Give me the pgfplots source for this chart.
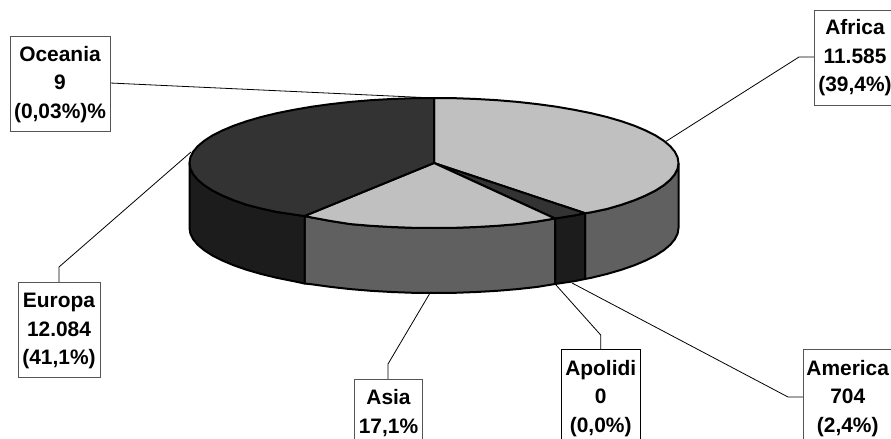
\documentclass[border=0pt]{standalone}
\usepackage{pgfplots}
\pgfplotsset{compat=1.18}
\usepackage{fontspec}
\setmainfont{Liberation Sans}
\definecolor{lt}{HTML}{C0C0C0}
\definecolor{md}{HTML}{606060}
\definecolor{dk}{HTML}{333333}
\definecolor{vd}{HTML}{1C1C1C}
\definecolor{bx}{HTML}{555555}
\begin{document}
\begin{tikzpicture}
\path[use as bounding box] (0,0) rectangle (891bp,439bp);
\begin{axis}[at={(0,0)},anchor=south west,scale only axis,width=891bp,height=439bp,
  xmin=0,xmax=891,ymin=0,ymax=439,y dir=reverse,hide axis,clip=false,
  every axis plot/.append style={no marks,line join=round,line width=2bp}]
% walls
\addplot[fill=md,draw=black] coordinates {(678.5,163)(677.6,168.7)(674.8,174.3)(670.2,179.8)(663.8,185.2)(655.6,190.5)(645.7,195.5)(634.3,200.3)(621.3,204.8)(606.9,209)(591.2,212.3)(585,213.2)(585,279)(591.2,277.8)(606.9,274)(621.3,269.8)(634.3,265.3)(645.7,260.5)(655.6,255.5)(663.8,250.2)(670.2,244.8)(674.8,239.3)(677.6,233.7)(678.5,228)(678.5,163)};
\addplot[fill=vd,draw=black] coordinates {(585,213.2)(574.2,215.5)(555,218.5)(555,284)(574.2,281.2)(585,279)(585,213.2)};
\addplot[fill=md,draw=black] coordinates {(555,218.5)(537.3,221.5)(517.6,224.1)(497.3,225.8)(476.5,227)(455.3,227.8)(434,228)(412.7,227.8)(391.5,227)(370.7,225.8)(350.4,224.1)(330.7,221)(311.8,217.5)(304.5,216)(304.5,283.5)(311.8,284.3)(330.7,286.9)(350.4,289.1)(370.7,290.8)(391.5,292)(412.7,292.8)(434,293)(455.3,292.8)(476.5,292)(497.3,290.8)(517.6,289.1)(537.3,286.9)(555,284)(555,218.5)};
\addplot[fill=vd,draw=black] coordinates {(304.5,216)(293.8,214.5)(276.8,212)(261.1,208.5)(246.7,204.8)(233.7,200.3)(222.3,195.5)(212.4,190.5)(204.2,185.2)(197.8,179.8)(193.2,174.3)(190.4,168.7)(189.5,163)(189.5,228)(190.4,233.7)(193.2,239.3)(197.8,244.8)(204.2,250.2)(212.4,255.5)(222.3,260.5)(233.7,265.3)(246.7,269.8)(261.1,274)(276.8,277.8)(293.8,281.2)(304.5,283.5)(304.5,216)};
% top faces
\addplot[fill=lt,draw=black] coordinates {(434,163)(434,98)(455.3,98.2)(476.5,99)(497.3,100.2)(517.6,101.9)(537.3,104.1)(556.3,106.7)(574.2,109.8)(591.2,113.2)(606.9,117)(621.3,121.2)(634.3,125.7)(645.7,130.5)(655.6,135.5)(663.8,140.8)(670.2,146.2)(674.8,151.7)(677.6,157.3)(678.5,163)(677.6,168.7)(674.8,174.3)(670.2,179.8)(663.8,185.2)(655.6,190.5)(645.7,195.5)(634.3,200.3)(621.3,204.8)(606.9,209)(591.2,212.3)(585,213.2)(434,163)};
\addplot[fill=dk,draw=black] coordinates {(434,163)(585,213.2)(574.2,215.5)(555,218.5)(434,163)};
\addplot[fill=lt,draw=black] coordinates {(434,163)(555,218.5)(537.3,221.5)(517.6,224.1)(497.3,225.8)(476.5,227)(455.3,227.8)(434,228)(412.7,227.8)(391.5,227)(370.7,225.8)(350.4,224.1)(330.7,221)(311.8,217.5)(304.5,216)(434,163)};
\addplot[fill=dk,draw=black] coordinates {(434,163)(304.5,216)(293.8,214.5)(276.8,212)(261.1,208.5)(246.7,204.8)(233.7,200.3)(222.3,195.5)(212.4,190.5)(204.2,185.2)(197.8,179.8)(193.2,174.3)(190.4,168.7)(189.5,163)(190.4,157.3)(193.2,151.7)(197.8,146.2)(204.2,140.8)(212.4,135.5)(222.3,130.5)(233.7,125.7)(246.7,121.2)(261.1,117)(276.8,113.2)(293.8,109.8)(311.8,106.7)(330.7,104.1)(350.4,101.9)(370.7,100.2)(391.5,99)(412.7,98.2)(434,98)(434,163)};
% leader lines
\addplot[black,line width=0.8bp] coordinates {(110,83)(434,98)};
\addplot[black,line width=0.8bp] coordinates {(814,57)(799,57)(665,142)};
\addplot[black,line width=0.8bp] coordinates {(59,282)(59,267)(191,152)};
\addplot[black,line width=0.8bp] coordinates {(388,379)(388,364)(430,293)};
\addplot[black,line width=0.8bp] coordinates {(600.7,349)(600.7,335)(556,285)};
\addplot[black,line width=0.8bp] coordinates {(803,397)(788,397)(572,283)};
% boxes
\draw[bx,line width=0.8bp,fill=white] (axis cs:10,36) rectangle (axis cs:110,131);
\draw[bx,line width=0.8bp,fill=white] (axis cs:814,10) rectangle (axis cs:895,105);
\draw[bx,line width=0.8bp,fill=white] (axis cs:18,282) rectangle (axis cs:100,377);
\draw[bx,line width=0.8bp,fill=white] (axis cs:354.5,379) rectangle (axis cs:422.3,445);
\draw[black,line width=0.8bp,fill=white] (axis cs:561,349) rectangle (axis cs:640.7,445);
\draw[bx,line width=0.8bp,fill=white] (axis cs:803,349.5) rectangle (axis cs:895,445);
% text
\tikzset{lab/.style={inner sep=0pt,anchor=base,font=\fontsize{21}{24}\selectfont\bfseries}}
\node[lab] at (axis cs:60,61.7) {Oceania};
\node[lab] at (axis cs:60,90) {9};
\node[lab] at (axis cs:60,118.3) {(0,03\%)\%};
\node[lab] at (axis cs:855,35) {Africa};
\node[lab] at (axis cs:855,63.5) {11.585};
\node[lab] at (axis cs:855,92) {(39,4\%)};
\node[lab] at (axis cs:59,307.7) {Europa};
\node[lab] at (axis cs:59,336) {12.084};
\node[lab] at (axis cs:59,364.3) {(41,1\%)};
\node[lab] at (axis cs:388.5,404.7) {Asia};
\node[lab] at (axis cs:388.5,433.5) {17,1\%};
\node[lab] at (axis cs:600.7,375) {Apolidi};
\node[lab] at (axis cs:600.7,403.5) {0};
\node[lab] at (axis cs:600.7,432) {(0,0\%)};
\node[lab] at (axis cs:847.7,375.5) {America};
\node[lab] at (axis cs:847.7,403.7) {704};
\node[lab] at (axis cs:847.7,432) {(2,4\%)};
\end{axis}
\end{tikzpicture}
\end{document}
